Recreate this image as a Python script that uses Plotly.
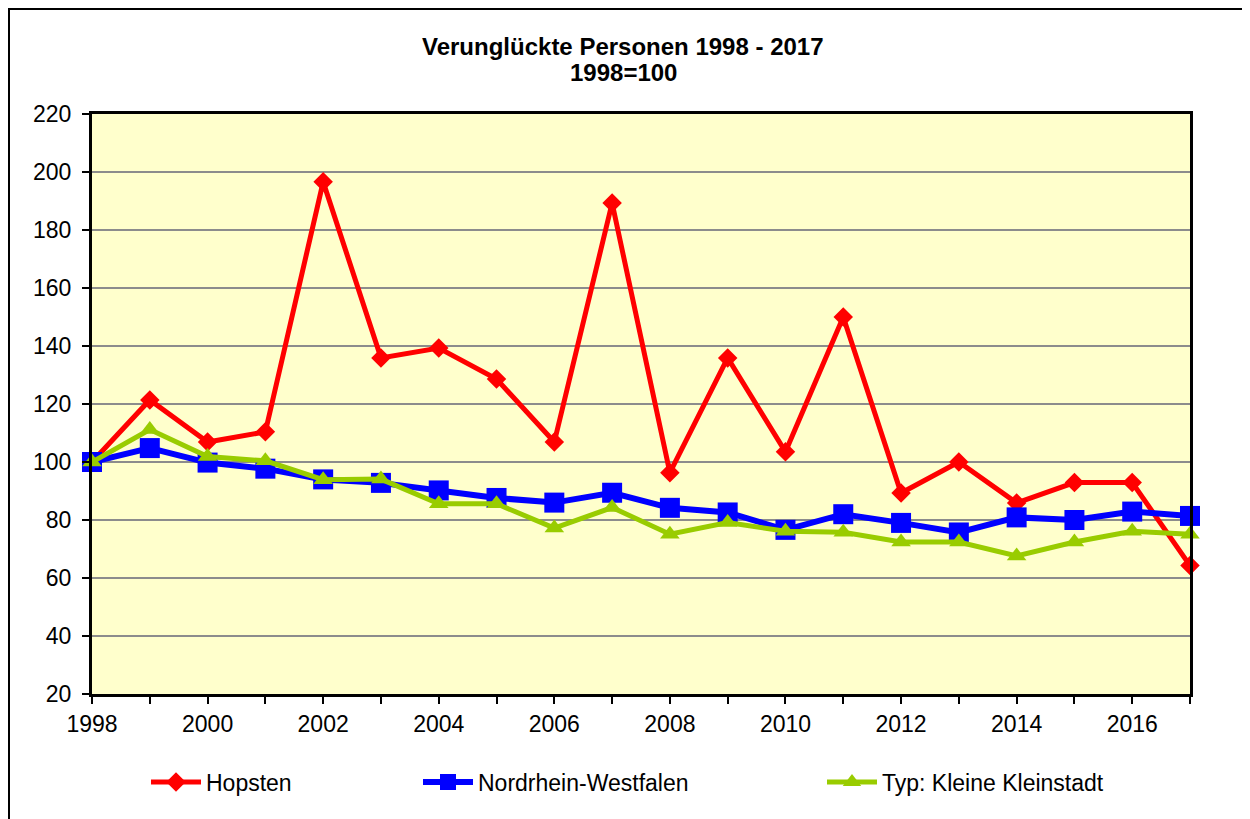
import plotly.graph_objects as go

years = list(range(1998, 2018))
hopsten = [100, 121.4, 106.9, 110.4, 196.6, 135.9, 139.3, 128.6, 106.9, 189.3,
           96.3, 135.9, 103.5, 150.0, 89.3, 100.0, 85.9, 92.9, 92.9, 64.3]
nrw = [100, 104.8, 99.8, 97.7, 94.0, 92.8, 90.2, 87.6, 86.0, 89.4,
       84.2, 82.6, 76.6, 82.0, 79.0, 75.7, 80.9, 80.0, 82.9, 81.4]
kleinstadt = [100, 111.2, 101.9, 100.4, 93.9, 94.1, 85.6, 85.6, 77.2, 84.3,
              75.1, 79.1, 76.1, 75.8, 72.4, 72.4, 67.6, 72.4, 76.1, 75.1]

series_names = ["Hopsten", "Nordrhein-Westfalen", "Typ: Kleine Kleinstadt"]
title_lines = ["Verunglückte Personen 1998 - 2017", "1998=100"]
tick_years = years
tick_text = [str(y) if y % 2 == 0 else "" for y in years]
y_ticks = list(range(20, 221, 20))

font_family = "Liberation Sans, Arial, sans-serif"
FS = 23

# page offset of 8px (body margin) -> plot area at page x 92..1190, y 114..694
PL, PW, PT, PH = 92, 1098, 114, 580
def px(xp):
    return (xp - PL) / PW
def py(yp):
    return (PT + PH - yp) / PH

fig = go.Figure()
fig.add_trace(go.Scatter(
    x=years, y=hopsten, name=series_names[0], mode="lines+markers",
    line=dict(color="#FF0000", width=5),
    marker=dict(symbol="diamond", size=15, color="#FF0000"),
    cliponaxis=False, legend="legend"))
fig.add_trace(go.Scatter(
    x=years, y=nrw, name=series_names[1], mode="lines+markers",
    line=dict(color="#0000FF", width=6),
    marker=dict(symbol="square", size=20, color="#0000FF"),
    cliponaxis=False, legend="legend2"))
fig.add_trace(go.Scatter(
    x=years, y=kleinstadt, name=series_names[2], mode="lines+markers",
    line=dict(color="#99CC00", width=5),
    marker=dict(symbol="triangle-up", size=17, color="#99CC00"),
    cliponaxis=False, legend="legend3"))

legend_common = dict(orientation="h", yanchor="middle", y=py(782), xanchor="left",
                     font=dict(family=font_family, size=FS, color="black"),
                     bgcolor="rgba(0,0,0,0)", itemwidth=50)

fig.update_layout(
    width=1250, height=819,
    margin=dict(l=84, r=68, t=106, b=133),
    paper_bgcolor="white", plot_bgcolor="#FFFFCC",
    font=dict(family=font_family, size=FS, color="black"),
    xaxis=dict(range=[1998, 2017], tickmode="array", tickvals=tick_years, ticktext=tick_text,
               ticks="outside", ticklen=7, tickwidth=2, tickcolor="black",
               showline=True, linecolor="black", linewidth=3, mirror=True,
               showgrid=False, zeroline=False,
               tickfont=dict(family=font_family, size=FS, color="black")),
    yaxis=dict(range=[20, 220], tickmode="array", tickvals=y_ticks,
               ticks="outside", ticklen=7, tickwidth=2, tickcolor="black",
               showline=True, linecolor="black", linewidth=3, mirror=True,
               showgrid=True, gridcolor="#8C8C8C", gridwidth=2, zeroline=False,
               ticklabelstandoff=6,
               tickfont=dict(family=font_family, size=FS, color="black")),
    legend=dict(x=px(146), **legend_common),
    legend2=dict(x=px(418), **legend_common),
    legend3=dict(x=px(822), **legend_common),
    showlegend=True,
)

for text, yp in zip(title_lines, [46, 73]):
    fig.add_annotation(text=f"<b>{text}</b>", xref="paper", yref="paper",
                       x=px(623), y=py(yp), xanchor="center", yanchor="middle",
                       showarrow=False, font=dict(family=font_family, size=24, color="black"))

fig.add_shape(type="rect", xref="paper", yref="paper",
              x0=px(9), x1=px(1248), y0=py(840), y1=py(9),
              line=dict(color="black", width=2), fillcolor="rgba(0,0,0,0)", layer="below")

fig.write_html("out.html")
